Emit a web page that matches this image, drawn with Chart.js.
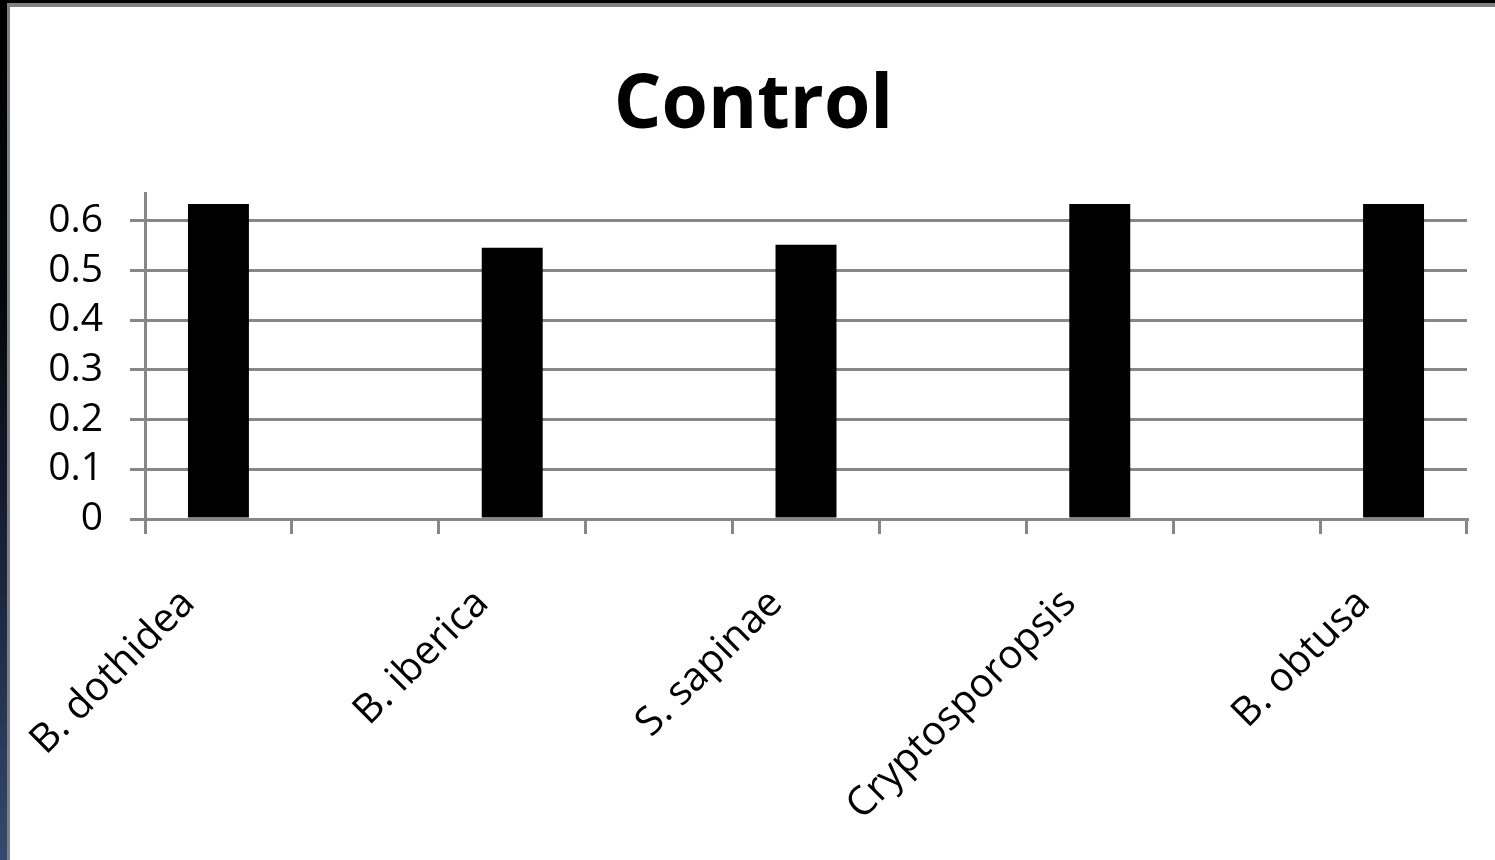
<!DOCTYPE html>
<html><head><meta charset="utf-8">
<script src="https://cdn.jsdelivr.net/npm/chart.js@4"></script>
<style>
html,body{margin:0;padding:0;}
body{width:1495px;height:860px;overflow:hidden;position:relative;background:linear-gradient(to bottom,#000 0%,#05070c 35%,#1c2740 70%,#35496e 100%);}
#gray{position:absolute;left:7px;top:3px;width:1488px;height:857px;background:#808080;}
#white{position:absolute;left:10px;top:7px;width:1485px;height:853px;background:#fff;}
canvas{display:block;}
</style></head><body>
<div id="gray"></div>
<div id="white"><canvas id="c" width="1485" height="853"></canvas></div>
<script>
const categories = ['B. dothidea','','B. iberica','','S. sapinae','','Cryptosporopsis','','B. obtusa'];
const controlValues = [0.634,null,0.546,null,0.552,null,0.634,null,0.634];
const yTickValues = [0,0.1,0.2,0.3,0.4,0.5,0.6];
const yAxisMax = 0.656;
const chartTitle = 'Control';

const FONT = "'Open Sans', 'DejaVu Sans', sans-serif";
const GRID = '#878787';

new Chart(document.getElementById('c'), {
  type: 'bar',
  data: {
    labels: categories,
    datasets: [{
      label: chartTitle,
      data: controlValues,
      backgroundColor: '#000000',
      borderWidth: 0,
      categoryPercentage: 1,
      barPercentage: 0.415
    }]
  },
  options: {
    responsive: false,
    animation: false,
    layout: { padding: { top: 0, right: 28, bottom: 0, left: 30 } },
    plugins: {
      legend: { display: false },
      tooltip: { enabled: false },
      title: {
        display: true,
        text: chartTitle,
        color: '#000',
        font: { family: FONT, size: 75, weight: 'bold', lineHeight: 1.2 },
        padding: { top: 55, bottom: 41 }
      }
    },
    scales: {
      x: {
        type: 'category',
        offset: true,
        afterFit: s => { s.height = 341; },
        grid: {
          display: true,
          drawOnChartArea: false,
          drawTicks: true,
          tickLength: 15,
          color: GRID,
          lineWidth: 3,
          offset: true
        },
        border: { display: true, color: GRID, width: 3 },
        ticks: {
          autoSkip: false,
          minRotation: 45,
          maxRotation: 45,
          padding: 46,
          labelOffset: -30,
          color: '#000',
          font: { family: FONT, size: 40 }
        }
      },
      y: {
        min: 0,
        max: yAxisMax,
        afterFit: s => { s.width = 105; },
        afterBuildTicks: s => { s.ticks = yTickValues.map(v => ({ value: v })); },
        grid: {
          color: GRID,
          lineWidth: 3,
          tickLength: 15
        },
        border: { display: true, color: GRID, width: 3 },
        ticks: {
          padding: 27,
          color: '#000',
          font: { family: FONT, size: 39 },
          callback: v => String(Math.round(v * 10) / 10)
        }
      }
    }
  }
});
</script>
</body></html>
